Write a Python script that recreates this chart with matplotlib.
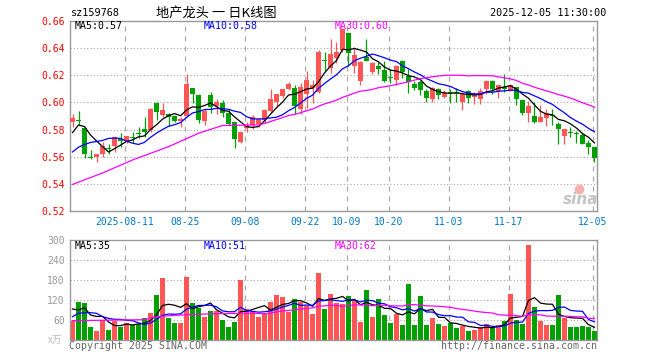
import numpy as np
import pandas as pd
import matplotlib
matplotlib.use('Agg')
import matplotlib.pyplot as plt
from matplotlib.lines import Line2D

# daily K-line data
opens = [0.5859, 0.5868, 0.5810, 0.5596, 0.5596, 0.5620, 0.5664, 0.5679, 0.5725, 0.5719,
         0.5742, 0.5775, 0.5805, 0.5797, 0.5998, 0.5906, 0.5915, 0.5901, 0.5866, 0.5898,
         0.6107, 0.6056, 0.5866, 0.6056, 0.5974, 0.5994, 0.5925, 0.5856, 0.5709, 0.5810,
         0.5834, 0.5842, 0.5871, 0.5940, 0.6004, 0.6051, 0.6102, 0.6107, 0.5952, 0.6063,
         0.6105, 0.6080, 0.6311, 0.6252, 0.6326, 0.6388, 0.6511, 0.6265, 0.6161, 0.6334,
         0.6223, 0.6270, 0.6240, 0.6188, 0.6166, 0.6307, 0.6198, 0.6134, 0.6147, 0.6085,
         0.6026, 0.6100, 0.6038, 0.6073, 0.6066, 0.6006, 0.6085, 0.6041, 0.6026, 0.6100,
         0.6159, 0.6085, 0.6110, 0.6085, 0.6112, 0.6019, 0.5920, 0.5901, 0.5859, 0.5888,
         0.5906, 0.5844, 0.5753, 0.5782, 0.5772, 0.5760, 0.5704, 0.5672]
highs = [0.5913, 0.5937, 0.5815, 0.5647, 0.5622, 0.5706, 0.5694, 0.5750, 0.5775, 0.5755,
         0.5780, 0.5822, 0.5893, 0.5958, 0.6003, 0.5999, 0.5920, 0.5908, 0.5896, 0.6211,
         0.6110, 0.6063, 0.5952, 0.6078, 0.6026, 0.6019, 0.5950, 0.5859, 0.5785, 0.5859,
         0.5908, 0.5881, 0.5950, 0.6100, 0.6065, 0.6102, 0.6151, 0.6132, 0.6144, 0.6235,
         0.6166, 0.6383, 0.6375, 0.6469, 0.6442, 0.6548, 0.6515, 0.6412, 0.6302, 0.6466,
         0.6297, 0.6297, 0.6302, 0.6245, 0.6277, 0.6310, 0.6245, 0.6159, 0.6166, 0.6100,
         0.6115, 0.6105, 0.6090, 0.6100, 0.6110, 0.6080, 0.6088, 0.6080, 0.6105, 0.6162,
         0.6162, 0.6132, 0.6208, 0.6137, 0.6117, 0.6021, 0.6011, 0.6006, 0.5982, 0.5952,
         0.5952, 0.5859, 0.5807, 0.5822, 0.5790, 0.5780, 0.5723, 0.5674]
lows = [0.5822, 0.5834, 0.5593, 0.5581, 0.5564, 0.5596, 0.5620, 0.5637, 0.5674, 0.5699,
        0.5700, 0.5741, 0.5748, 0.5780, 0.5871, 0.5896, 0.5829, 0.5854, 0.5822, 0.5896,
        0.5999, 0.5849, 0.5834, 0.5920, 0.5915, 0.5896, 0.5834, 0.5667, 0.5699, 0.5780,
        0.5802, 0.5822, 0.5847, 0.5933, 0.5974, 0.6031, 0.6092, 0.5915, 0.5915, 0.5960,
        0.5994, 0.6073, 0.6235, 0.6216, 0.6289, 0.6375, 0.6270, 0.6216, 0.6129, 0.6302,
        0.6211, 0.6211, 0.6147, 0.6142, 0.6129, 0.6179, 0.6073, 0.6088, 0.6056, 0.6000,
        0.6000, 0.6026, 0.6031, 0.5994, 0.6000, 0.5945, 0.5999, 0.5992, 0.5992, 0.6061,
        0.6063, 0.6031, 0.6080, 0.6083, 0.5982, 0.5908, 0.5859, 0.5849, 0.5854, 0.5829,
        0.5834, 0.5696, 0.5694, 0.5748, 0.5699, 0.5692, 0.5620, 0.5564]
closes = [0.5883, 0.5864, 0.5623, 0.5590, 0.5620, 0.5679, 0.5660, 0.5748, 0.5721, 0.5753,
          0.5738, 0.5771, 0.5785, 0.5955, 0.5928, 0.5945, 0.5896, 0.5866, 0.5876, 0.6137,
          0.6063, 0.5874, 0.5938, 0.5965, 0.6004, 0.5925, 0.5842, 0.5733, 0.5783, 0.5827,
          0.5893, 0.5876, 0.5945, 0.6026, 0.6063, 0.6100, 0.6139, 0.5977, 0.6112, 0.6166,
          0.6129, 0.6375, 0.6307, 0.6358, 0.6375, 0.6540, 0.6363, 0.6351, 0.6297, 0.6307,
          0.6294, 0.6247, 0.6159, 0.6184, 0.6270, 0.6225, 0.6149, 0.6110, 0.6088, 0.6031,
          0.6105, 0.6056, 0.6073, 0.6068, 0.6061, 0.6061, 0.6031, 0.6056, 0.6085, 0.6159,
          0.6100, 0.6129, 0.6100, 0.6129, 0.6024, 0.5925, 0.5977, 0.5854, 0.5893, 0.5920,
          0.5901, 0.5805, 0.5805, 0.5778, 0.5768, 0.5694, 0.5674, 0.5593]
volumes = [58, 115, 112, 40, 28, 60, 31, 57, 40, 51,
           46, 48, 66, 82, 136, 185, 67, 52, 50, 190,
           112, 95, 70, 88, 88, 61, 40, 55, 181, 94,
           88, 70, 82, 115, 136, 130, 85, 124, 115, 103,
           79, 202, 94, 138, 112, 108, 133, 119, 55, 151,
           70, 124, 76, 52, 79, 46, 169, 46, 133, 46,
           67, 49, 43, 52, 37, 43, 28, 31, 40, 49,
           37, 46, 58, 139, 61, 49, 286, 100, 58, 46,
           46, 136, 67, 40, 40, 43, 40, 28]

# moving-average values before the window fills
ma5_lead = [0.5778, 0.5834, 0.5822, 0.5760]
ma10_lead = [0.5635, 0.5670, 0.5690, 0.5705, 0.5712, 0.5720, 0.5735, 0.5737, 0.5735]
ma30_lead_idx = [0, 5, 10, 16, 21, 25]
ma30_lead = [0.5396, 0.5480, 0.5576, 0.5674, 0.5773, 0.5830]
vma5_lead = [93, 90, 97, 75]
vma10_lead = [70, 80, 82, 82, 80, 70, 65, 62, 62]
vma30_lead_idx = [0, 12, 14, 19, 24]
vma30_lead = [58, 61, 70, 76, 79]

tick_pos = [9, 19, 29, 39, 46, 53, 63, 73, 87]
tick_labels = ['2025-08-11', '08-25', '09-08', '09-22', '10-09', '10-20', '11-03', '11-17', '12-05']

RED = '#ff5555'
GREEN = '#00a000'
GRID = '#aaaaaa'
MONO = 'DejaVu Sans Mono'


def ma_line(values, n, lead_idx, lead_val):
    ma = pd.Series(values).rolling(n).mean()
    xs = list(lead_idx) + list(range(n - 1, len(values)))
    ys = list(lead_val) + list(ma[n - 1:])
    return xs, ys


o = np.array(opens)
c = np.array(closes)
x = np.arange(len(closes))
colors = np.where(c >= o, RED, GREEN)

fig = plt.figure(figsize=(6.6, 3.6), dpi=100)
L, W = 70.3 / 660, 526.4 / 660
ax = fig.add_axes([L, 1 - 211 / 360, W, 190 / 360])
axv = fig.add_axes([L, 1 - 340 / 360, W, 100 / 360])

# price panel
for y in [0.54, 0.56, 0.58, 0.60, 0.62, 0.64]:
    ax.axhline(y, color=GRID, ls=(0, (1, 2)), lw=0.8, zorder=0)
for p in tick_pos:
    ax.axvline(p - 0.3, color=GRID, ls=(0, (4, 4)), lw=0.9, zorder=0)
    axv.axvline(p - 0.3, color=GRID, ls=(0, (4, 4)), lw=0.9, zorder=0)

ax.vlines(x, lows, highs, colors=colors, lw=0.9, zorder=2)
h = np.maximum(np.abs(c - o), 0.0008)
ax.bar(x, h, bottom=(o + c) / 2 - h / 2, width=0.78, color=colors, lw=0, zorder=3)

ax.plot(*ma_line(closes, 5, range(4), ma5_lead), color='black', lw=0.9, zorder=4)
ax.plot(*ma_line(closes, 10, range(9), ma10_lead), color='#0000ff', lw=0.9, zorder=4)
ax.plot(*ma_line(closes, 30, ma30_lead_idx, ma30_lead), color='#ff00ff', lw=0.9, zorder=4)

ax.set_xlim(-0.37, len(closes) - 0.63)
ax.set_ylim(0.52, 0.66)
ax.set_yticks([0.52, 0.54, 0.56, 0.58, 0.60, 0.62, 0.64, 0.66])
ax.set_yticklabels(['%.2f' % v for v in ax.get_yticks()], color='red', family=MONO, fontsize=7)
ax.set_xticks(np.array(tick_pos) - 0.3)
ax.set_xticklabels(tick_labels, color='#0078c8', family=MONO, fontsize=7)
ax.tick_params(length=0, pad=4)

# volume panel
for y in [60, 120, 180, 240]:
    axv.axhline(y, color=GRID, ls=(0, (1, 2)), lw=0.8, zorder=0)
axv.bar(x, volumes, width=0.78, color=colors, lw=0, zorder=2)
axv.plot(*ma_line(volumes, 5, range(4), vma5_lead), color='black', lw=0.9, zorder=4)
axv.plot(*ma_line(volumes, 10, range(9), vma10_lead), color='#0000ff', lw=0.9, zorder=4)
axv.plot(*ma_line(volumes, 30, vma30_lead_idx, vma30_lead), color='#ff00ff', lw=0.9, zorder=4)
axv.set_xlim(ax.get_xlim())
axv.set_ylim(0, 300)
axv.set_yticks([60, 120, 180, 240, 300])
axv.set_yticklabels(['60', '120', '180', '240', '300'], color='#999999', family=MONO, fontsize=7)
axv.set_xticks([])
axv.tick_params(length=0, pad=4)

for a in (ax, axv):
    for s in a.spines.values():
        s.set_color('#999999')
        s.set_linewidth(1)

# header and labels
fig.text(70.5 / 660, 1 - 13 / 360, 'sz159768', family=MONO, fontsize=7.3, va='center')
fig.text(216 / 660, 1 - 13 / 360, '地产龙头 一 日K线图', family=['Noto Sans CJK SC', 'DejaVu Sans'],
         fontsize=9.5, va='center', ha='center')
fig.text(606 / 660, 1 - 13 / 360, '2025-12-05 11:30:00', family=MONO, fontsize=7.3, va='center', ha='right')

for lx, txt, col in [(75, 'MA5:0.57', 'black'), (204, 'MA10:0.58', '#0000ff'), (335, 'MA30:0.60', '#ff00ff')]:
    fig.text(lx / 660, 1 - 26 / 360, txt, color=col, family=MONO, fontsize=7.1, va='center')
for lx, txt, col in [(75, 'MA5:35', 'black'), (204, 'MA10:51', '#0000ff'), (335, 'MA30:62', '#ff00ff')]:
    fig.text(lx / 660, 1 - 246 / 360, txt, color=col, family=MONO, fontsize=7.1, va='center')

fig.text(55 / 660, 1 - 340 / 360, 'x万', color='#bbbbbb', family=['Noto Sans CJK SC', 'DejaVu Sans'],
         fontsize=7, va='center', ha='center')
fig.text(69 / 660, 1 - 346 / 360, 'Copyright 2025 SINA.COM', color='#666666', family=MONO, fontsize=7.1, va='center')
fig.text(597 / 660, 1 - 346 / 360, 'http://finance.sina.com.cn', color='#666666', family=MONO, fontsize=7.1,
         va='center', ha='right')

# sina watermark: pink eye mark plus grey word
fig.add_artist(Line2D([579 / 660], [1 - 189 / 360], marker='o', markersize=6, color='#f4b0b0',
                      transform=fig.transFigure))
fig.text(581 / 660, 1 - 200 / 360, 'sina', color='#c4c4c4', fontsize=11, style='italic', weight='bold',
         va='center', ha='center')

fig.savefig('out.png', dpi=100)
